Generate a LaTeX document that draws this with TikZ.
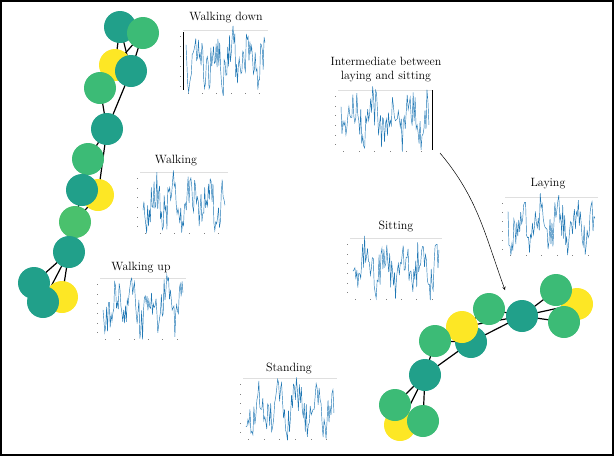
\documentclass[tikz,border=0pt]{standalone}
\begin{document}
\begin{tikzpicture}[x=1pt,y=-1pt,
  every node/.style={font=\fontsize{12}{14}\selectfont},
  ball/.style={circle,minimum size=32pt,inner sep=0pt},
  teal/.style={ball,fill=cteal},
  grn/.style={ball,fill=cgreen},
  yel/.style={ball,fill=cyellow},
  edge/.style={black,line width=1.2pt},
  sigl/.style={color=cblue,line width=0.45pt},
  title/.style={align=center,inner sep=0pt}]
\definecolor{cteal}{HTML}{21A08A}
\definecolor{cgreen}{HTML}{3CBB76}
\definecolor{cgreenb}{HTML}{4AC16D}
\definecolor{cyellow}{HTML}{FDE725}
\definecolor{cblue}{HTML}{1F77B4}
\useasboundingbox (0,0) rectangle (614,456);
\draw[line width=1.2pt] (1,1) rectangle (613,455);
\pgfmathsetseed{7}
\newcommand\sigplot[4]{% x0 y0 w h
  \draw[gray!25,line width=0.4pt] (#1,#2) -- ++(#3,0);
  \foreach \k in {0,...,5} \fill[gray] (#1-3,#2+6+\k*#4/6) rectangle ++(1,1);
  \foreach \k in {0,...,5} \fill[gray] (#1+5+\k*#3/6,#2+#4+3) rectangle ++(1,1);
  \draw[sigl] plot[domain=0:1,samples=90] ({#1+3+(#3-6)*\x},{#2+#4/2+0.25*#4*sin(\x*1700)+0.7*#4*(rnd-0.5)});
}
% plots
\sigplot{183}{30}{85}{60}
\draw[line width=0.8pt] (183,32) -- (183,90);
\sigplot{140}{172}{88}{58}
\sigplot{100}{278}{86}{58}
\sigplot{338}{90}{94}{58}
\draw[line width=0.8pt] (432,90) -- (432,150);
\sigplot{505}{197}{93}{55}
\sigplot{350}{238}{92}{58}
\sigplot{243}{378}{94}{58}
% titles
\node[title] (t1) at (226,18) {Walking down};
\node[title] (t2) at (176,161) {Walking};
\node[title] (t3) at (141,268) {Walking up};
\node[title] (t4) at (386,70) {Intermediate between\\laying and sitting};
\node[title] (t5) at (548,184) {Laying};
\node[title] (t6) at (396,227) {Sitting};
\node[title] (t7) at (289,368) {Standing};
\coordinate (as) at (440,153);
\coordinate (ae) at (505,290);
\draw[->,>=stealth,line width=0.5pt] (as) to[out=-50,in=110] (ae);
% left cluster
\coordinate (A) at (120,27); \coordinate (B) at (143,33); \coordinate (C) at (115,65);
\coordinate (D) at (131,71); \coordinate (E) at (100,88); \coordinate (F) at (107,129);
\coordinate (G) at (88,159); \coordinate (H) at (98,195); \coordinate (I) at (82,190);
\coordinate (J) at (75,222); \coordinate (K) at (69,252); \coordinate (L) at (34,283);
\coordinate (M) at (62,297); \coordinate (N) at (43,302);
\foreach \a/\b in {A/C,A/D,B/C,B/D,C/E,D/E,E/F,D/F,F/G,F/H,G/I,H/J,I/J,J/K,K/L,K/M,K/N}
  \draw[edge] (\a) -- (\b);
\node[yel] (nC) at (C) {}; \node[yel] (nH) at (H) {}; \node[yel] (nM) at (M) {};
\node[teal] (nA) at (A) {}; \node[grn] (nB) at (B) {}; \node[teal] (nD) at (D) {};
\node[grn] (nE) at (E) {}; \node[teal] (nF) at (F) {}; \node[grn] (nG) at (G) {};
\node[teal] (nI) at (I) {}; \node[ball,fill=cgreenb] (nJ) at (J) {};
\node[teal] (nK) at (K) {}; \node[teal] (nL) at (L) {}; \node[teal] (nN) at (N) {};
% right cluster
\coordinate (P) at (556,290); \coordinate (Q) at (577,304); \coordinate (R) at (564,322);
\coordinate (S) at (522,316); \coordinate (T) at (489,309); \coordinate (U) at (462,327);
\coordinate (V) at (471,342); \coordinate (W) at (435,341); \coordinate (X) at (425,375);
\coordinate (Y) at (395,405); \coordinate (Z) at (400,425); \coordinate (AA) at (423,421);
\foreach \a/\b in {S/P,S/Q,S/R,T/S,V/S,U/S,T/U,W/U,W/V,X/W,X/V,X/Y,X/Z,X/AA}
  \draw[edge] (\a) -- (\b);
\node[yel] (nQ) at (Q) {}; \node[yel] (nZ) at (Z) {};
\node[grn] (nP) at (P) {}; \node[grn] (nR) at (R) {};
\node[teal] (nS) at (S) {}; \node[teal] (nV) at (V) {};
\node[grn] (nT) at (T) {}; \node[yel] (nU) at (U) {};
\node[grn] (nW) at (W) {}; \node[teal] (nX) at (X) {};
\node[grn] (nY) at (Y) {}; \node[grn] (nAA) at (AA) {};
\end{tikzpicture}
\end{document}
